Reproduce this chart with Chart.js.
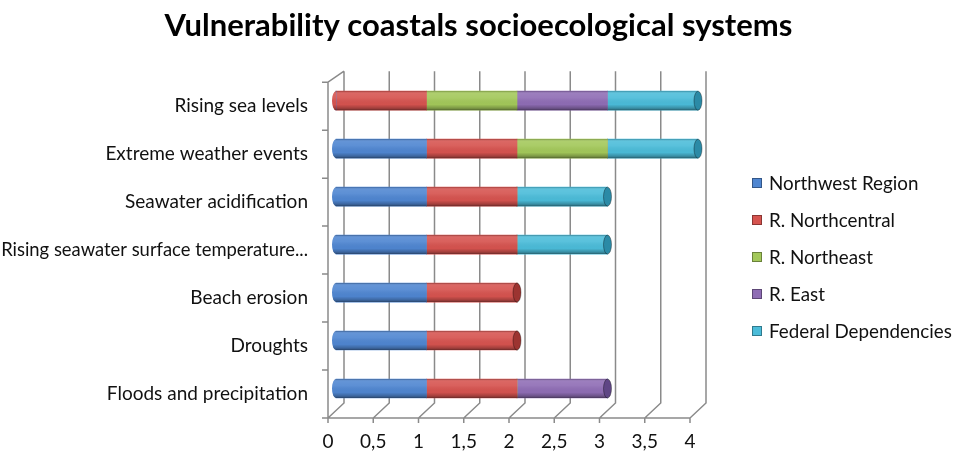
<!DOCTYPE html>
<html>
<head>
<meta charset="utf-8">
<script src="https://cdn.jsdelivr.net/npm/chart.js@4.4.1/dist/chart.umd.min.js"></script>
<style>
  html, body { margin: 0; padding: 0; background: #fff; }
  #wrap { position: relative; width: 957px; height: 455px; }
  #legend { position: absolute; left: 752px; top: 164px; font-family: Lato, "Open Sans", sans-serif; font-size: 18.8px; color: #111; }
  #legend .item { height: 37.1px; display: flex; align-items: center; }
  #legend .box { width: 10px; height: 10px; margin-right: 7px; box-sizing: border-box; border: 1px solid rgba(0,0,0,0.35); }
</style>
</head>
<body>
<div id="wrap">
  <canvas id="chart" width="957" height="455"></canvas>
  <div id="legend"></div>
</div>
<script>
// Data
const categories = ['Rising sea levels', 'Extreme weather events', 'Seawater acidification',
  'Rising seawater surface temperature...', 'Beach erosion', 'Droughts', 'Floods and precipitation'];
const seriesNames = ['Northwest Region', 'R. Northcentral', 'R. Northeast', 'R. East', 'Federal Dependencies'];
const northwest    = [0, 1, 1, 1, 1, 1, 1];
const northcentral = [1, 1, 1, 1, 1, 1, 1];
const northeast    = [1, 1, 0, 0, 0, 0, 0];
const east         = [1, 0, 0, 0, 0, 0, 1];
const federal      = [1, 1, 1, 1, 0, 0, 0];
const xTicks = [0, 0.5, 1, 1.5, 2, 2.5, 3, 3.5, 4];

const colors = ['#4f86d1', '#d6534f', '#a3c85a', '#8f6db5', '#4bbcd9'];
const capColors = ['#2f5f9e', '#9c3431', '#6f8f34', '#5f4685', '#2b8aa6'];
const seriesValues = [northwest, northcentral, northeast, east, federal];

// 3D offsets (back wall vs front plane)
const depthX = 16, depthTopY = -11, depthBottomY = -15;
const barShiftX = 8, barShiftY = -5.5;

// Walls, floor and gridlines
const wallsPlugin = {
  id: 'walls',
  beforeDatasetsDraw(chart) {
    const { ctx, chartArea: a, scales: { x } } = chart;
    ctx.save();
    ctx.strokeStyle = '#8a8a8a';
    ctx.lineWidth = 1.5;
    ctx.beginPath();
    xTicks.forEach(v => {
      const px = x.getPixelForValue(v);
      // back wall vertical line
      ctx.moveTo(px + depthX, a.top + depthTopY);
      ctx.lineTo(px + depthX, a.bottom + depthBottomY);
      // floor diagonal
      ctx.lineTo(px, a.bottom);
      // tick down
      ctx.lineTo(px, a.bottom + 5);
    });
    // front floor edge
    ctx.moveTo(a.left - 6, a.bottom);
    ctx.lineTo(a.right, a.bottom);
    // left wall front edge + top diagonal
    ctx.moveTo(a.left, a.bottom);
    ctx.lineTo(a.left, a.top);
    ctx.lineTo(a.left + depthX, a.top + depthTopY);
    // category ticks
    const band = (a.bottom - a.top) / categories.length;
    for (let i = 0; i <= categories.length; i++) {
      const py = a.top + band * i;
      ctx.moveTo(a.left - 6, py);
      ctx.lineTo(a.left, py);
    }
    ctx.stroke();
    ctx.restore();

    ctx.save();
    ctx.translate(barShiftX, barShiftY);
  },
  afterDatasetsDraw(chart) {
    const { ctx } = chart;
    const firstIdx = [], lastIdx = [];
    categories.forEach((c, i) => {
      const nz = seriesValues.map((s, d) => s[i] ? d : -1).filter(d => d >= 0);
      firstIdx.push(nz[0]);
      lastIdx.push(nz[nz.length - 1]);
    });
    chart.data.datasets.forEach((ds, d) => {
      const meta = chart.getDatasetMeta(d);
      meta.data.forEach((bar, i) => {
        if (!ds.data[i]) return;
        const { x: xr, y, base, height } = bar.getProps(['x', 'y', 'base', 'height'], true);
        const top = y - height / 2;
        const ry = height / 2, rx = 4;
        // rounded back end
        if (firstIdx[i] === d) {
          ctx.fillStyle = colors[d];
          ctx.beginPath();
          ctx.ellipse(base, y, rx, ry, 0, Math.PI / 2, Math.PI * 1.5);
          ctx.fill();
        }
        // cylinder shading
        const g = ctx.createLinearGradient(0, top, 0, top + height);
        g.addColorStop(0, 'rgba(0,0,0,0.28)');
        g.addColorStop(0.1, 'rgba(255,255,255,0.12)');
        g.addColorStop(0.35, 'rgba(255,255,255,0.08)');
        g.addColorStop(0.7, 'rgba(0,0,0,0.02)');
        g.addColorStop(0.9, 'rgba(0,0,0,0.25)');
        g.addColorStop(1, 'rgba(0,0,0,0.5)');
        ctx.fillStyle = g;
        ctx.beginPath();
        if (firstIdx[i] === d) {
          ctx.ellipse(base, y, rx, ry, 0, Math.PI / 2, Math.PI * 1.5);
          ctx.lineTo(xr, top);
          ctx.lineTo(xr, top + height);
          ctx.closePath();
        } else {
          ctx.rect(base, top, xr - base, height);
        }
        ctx.fill();
        // front cap
        if (lastIdx[i] === d) {
          ctx.fillStyle = capColors[d];
          ctx.strokeStyle = 'rgba(0,0,0,0.35)';
          ctx.lineWidth = 1;
          ctx.beginPath();
          ctx.ellipse(xr, y, rx, ry, 0, 0, Math.PI * 2);
          ctx.fill();
          ctx.stroke();
        }
      });
    });
    ctx.restore();
  }
};

const datasets = seriesNames.map((name, d) => ({
  label: name,
  data: seriesValues[d],
  backgroundColor: colors[d],
  borderWidth: 0,
  barThickness: 19,
  clip: false
}));

new Chart(document.getElementById('chart'), {
  type: 'bar',
  data: { labels: categories, datasets },
  options: {
    indexAxis: 'y',
    responsive: false,
    animation: false,
    layout: { padding: 0 },
    plugins: {
      legend: { display: false },
      tooltip: { enabled: false },
      title: {
        display: true,
        text: 'Vulnerability coastals socioecological systems',
        color: '#000',
        font: { family: 'Lato', size: 31, weight: 'bold', lineHeight: 1.2 },
        padding: { top: 7, bottom: 38 }
      }
    },
    scales: {
      x: {
        stacked: true,
        min: 0,
        max: 4,
        afterBuildTicks: (s) => { s.ticks = xTicks.map(v => ({ value: v })); },
        grid: { display: false, drawTicks: false },
        border: { display: false },
        ticks: {
          color: '#111',
          padding: 12,
          font: { family: 'Lato', size: 19 },
          callback: (v) => String(v).replace('.', ',')
        },
        afterFit: (s) => { s.height = 37; }
      },
      y: {
        stacked: true,
        grid: { display: false, drawTicks: false },
        border: { display: false },
        ticks: {
          color: '#111',
          padding: 20,
          font: (c) => ({ family: 'Lato', size: c.index === 3 ? 18.4 : 19 })
        },
        afterFit: (s) => { s.width = 328; }
      },
      // empty right-hand axis that keeps room for the legend
      side: {
        axis: 'y',
        position: 'right',
        grid: { display: false, drawTicks: false },
        border: { display: false },
        ticks: { display: false },
        afterFit: (s) => { s.width = 267; }
      }
    }
  },
  plugins: [wallsPlugin]
});

// Legend
const legend = document.getElementById('legend');
seriesNames.forEach((name, d) => {
  const item = document.createElement('div');
  item.className = 'item';
  item.innerHTML = '<span class="box" style="background:' + colors[d] + '"></span><span>' + name + '</span>';
  legend.appendChild(item);
});
</script>
</body>
</html>
